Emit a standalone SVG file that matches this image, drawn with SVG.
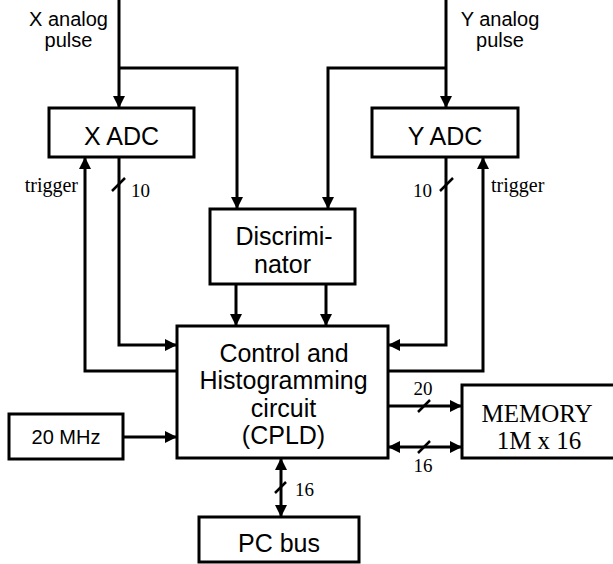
<svg xmlns="http://www.w3.org/2000/svg" width="613" height="564" viewBox="0 0 613 564">
<style>
.box{fill:#fff;stroke:#000;stroke-width:3}
.sans{font-family:"Liberation Sans",Arial,sans-serif;fill:#000}
.serif{font-family:"Liberation Serif","Times New Roman",serif;fill:#000}
.big{font-size:25px;text-anchor:middle}
.mid{font-size:20px;text-anchor:middle}
.num{font-size:19px}
.wire{fill:none;stroke:#000;stroke-width:3}
.slash{stroke:#000;stroke-width:2.5}
</style>
<defs>
<marker id="arr" markerUnits="userSpaceOnUse" markerWidth="12" markerHeight="12" refX="12" refY="6" orient="auto-start-reverse">
<path d="M0,0 L12,6 L0,12 z" fill="#000"/>
</marker>
</defs>
<rect width="613" height="564" fill="#fff"/>
<g id="connectors">
<path class="wire" d="M119,0 V108" marker-end="url(#arr)"/>
<path class="wire" d="M119,68 H237 V209" marker-end="url(#arr)"/>
<path class="wire" d="M446,0 V108" marker-end="url(#arr)"/>
<path class="wire" d="M446,68 H328 V209" marker-end="url(#arr)"/>
<path class="wire" d="M119,157 V345 H177" marker-end="url(#arr)"/>
<path class="wire" d="M177,371 H85 V157" marker-end="url(#arr)"/>
<path class="wire" d="M446,157 V345 H388" marker-end="url(#arr)"/>
<path class="wire" d="M388,371 H483 V157" marker-end="url(#arr)"/>
<path class="wire" d="M236,284 V326" marker-end="url(#arr)"/>
<path class="wire" d="M326,284 V326" marker-end="url(#arr)"/>
<path class="wire" d="M123,437 H177" marker-end="url(#arr)"/>
<path class="wire" d="M388,406 H462" marker-end="url(#arr)"/>
<path class="wire" d="M388,447 H462" marker-start="url(#arr)" marker-end="url(#arr)"/>
<path class="wire" d="M281,458 V517" marker-start="url(#arr)" marker-end="url(#arr)"/>
<line class="slash" x1="112" y1="191" x2="125" y2="178"/>
<line class="slash" x1="440" y1="191" x2="453" y2="178"/>
<line class="slash" x1="418" y1="412" x2="430" y2="400"/>
<line class="slash" x1="418" y1="453" x2="430" y2="441"/>
<line class="slash" x1="275" y1="493" x2="286" y2="482"/>
<text class="serif num" x="131" y="197">10</text>
<text class="serif num" x="432" y="197" text-anchor="end">10</text>
<text class="serif num" x="423" y="395" text-anchor="middle">20</text>
<text class="serif num" x="423" y="472" text-anchor="middle">16</text>
<text class="serif num" x="295" y="496">16</text>
<text class="serif" font-size="20" x="78" y="192" text-anchor="end">trigger</text>
<text class="serif" font-size="20" x="491" y="192">trigger</text>
<text class="sans mid" x="68.5" y="26">X analog</text>
<text class="sans mid" x="68.5" y="47">pulse</text>
<text class="sans mid" x="500" y="26">Y analog</text>
<text class="sans mid" x="500" y="47">pulse</text>
</g>
<g id="xadc">
<rect class="box" x="49" y="108" width="145" height="49"/>
<text class="sans big" x="121.5" y="145">X ADC</text>
</g>
<g id="yadc">
<rect class="box" x="372" y="108" width="146" height="49"/>
<text class="sans big" x="445" y="145">Y ADC</text>
</g>
<g id="discriminator">
<rect class="box" x="210" y="209" width="145" height="75"/>
<text class="sans big" x="284" y="245">Discrimi-</text>
<text class="sans big" x="282.5" y="273">nator</text>
</g>
<g id="cpld">
<rect class="box" x="177" y="326" width="211" height="132"/>
<text class="sans big" x="284" y="362">Control and</text>
<text class="sans big" x="283.5" y="389">Histogramming</text>
<text class="sans big" x="283.5" y="417">circuit</text>
<text class="sans big" x="283.5" y="444">(CPLD)</text>
</g>
<g id="clock">
<rect class="box" x="9" y="414" width="114" height="45"/>
<text class="sans mid" x="66" y="444">20 MHz</text>
</g>
<g id="memory">
<rect class="box" x="462" y="385" width="160" height="73"/>
<text class="serif" font-size="25" x="537" y="422" text-anchor="middle">MEMORY</text>
<text class="serif" font-size="25" x="539" y="449" text-anchor="middle">1M x 16</text>
</g>
<g id="pcbus">
<rect class="box" x="199" y="517" width="160" height="45"/>
<text class="sans big" x="279" y="552">PC bus</text>
</g>
</svg>
